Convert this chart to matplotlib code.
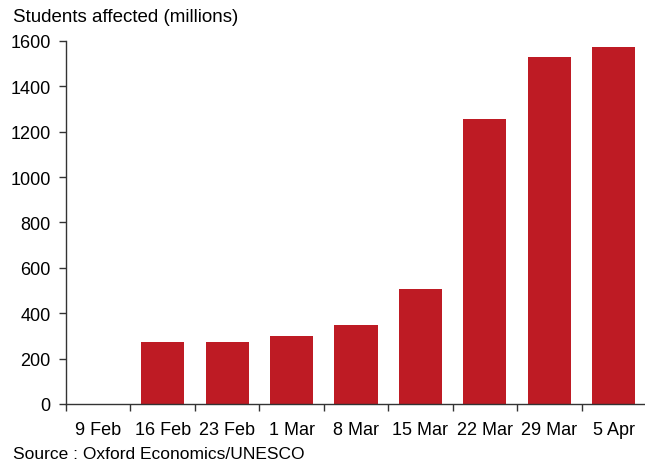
import matplotlib
matplotlib.use("Agg")
import matplotlib.pyplot as plt
import numpy as np

plt.rcParams['font.family'] = ['Liberation Sans', 'DejaVu Sans']

weeks = ["9 Feb", "16 Feb", "23 Feb", "1 Mar", "8 Mar", "15 Mar", "22 Mar", "29 Mar", "5 Apr"]
students_millions = [0, 275, 275, 300, 348, 507, 1255, 1528, 1573]
y_ticks = [0, 200, 400, 600, 800, 1000, 1200, 1400, 1600]

bar_color = "#BE1B24"

fig = plt.figure(figsize=(6.45, 4.64), dpi=100)
ax = fig.add_axes([0.1023, 0.1272, 0.8992, 0.7823])

x = np.arange(len(weeks))
ax.bar(x, students_millions, width=0.67, color=bar_color, zorder=2)

ax.set_xlim(-0.5, len(weeks) - 0.5)
ax.set_ylim(0, 1600)
ax.set_yticks(y_ticks)
ax.set_yticklabels([str(v) for v in y_ticks], fontsize=13)

# Category labels sit between boundary ticks
ax.set_xticks(x)
ax.set_xticklabels(weeks, fontsize=13)
ax.tick_params(axis='x', which='major', length=0, pad=12)
ax.set_xticks(np.arange(len(weeks) + 1) - 0.5, minor=True)
ax.tick_params(axis='x', which='minor', length=5, width=1, direction='out', color='#333333')
ax.tick_params(axis='y', length=5, width=1, direction='out', color='#333333', pad=6)

for side in ("top", "right"):
    ax.spines[side].set_visible(False)
for side in ("left", "bottom"):
    ax.spines[side].set_color('#333333')
    ax.spines[side].set_linewidth(1)

fig.text(13 / 645, 1 - 18 / 464, "Students affected (millions)", fontsize=13.5,
         ha='left', va='center')
fig.text(13 / 645, 1 - 455 / 464, "Source : Oxford Economics/UNESCO", fontsize=12.5,
         ha='left', va='center')

fig.savefig("out.png", dpi=100)
